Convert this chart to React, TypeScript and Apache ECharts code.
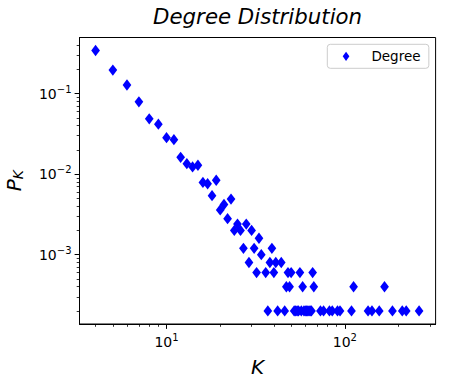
import React, { useEffect, useRef } from 'react';
import * as echarts from 'echarts';

// Degree K and probability P(K)
const degreeK = [
  4, 5, 6, 7, 8, 9, 10, 11, 12, 13, 14, 15, 16, 17, 18, 19, 20, 21, 22, 23,
  24, 25, 26, 27, 28, 29, 30, 31, 32, 33, 34, 36, 37, 38, 39, 40, 41, 42, 44, 46,
  47, 48, 49, 50, 52, 53, 54, 55, 56, 57, 58, 59, 60, 61, 62, 63, 64, 65, 66, 67,
  73, 76, 82, 85, 91, 94, 109, 112, 135, 142, 156, 167, 185, 210, 221, 261,
];
const degreeP = [
  0.343, 0.196, 0.128, 0.079, 0.0487, 0.0418, 0.0284, 0.0268, 0.0162, 0.0135,
  0.0123, 0.0129, 0.0079, 0.0076, 0.0054, 0.0084, 0.0036, 0.0042, 0.0028, 0.0049,
  0.002, 0.0024, 0.002, 0.0012, 0.0024, 0.0008, 0.002, 0.0012, 0.0006, 0.0016,
  0.001, 0.0006, 0.0002, 0.0008, 0.0012, 0.0006, 0.0008, 0.0002, 0.0008, 0.0002,
  0.0004, 0.0006, 0.0004, 0.0006, 0.0002, 0.0002, 0.0002, 0.0002, 0.0006, 0.0002,
  0.0004, 0.0002, 0.0002, 0.0002, 0.0002, 0.0002, 0.0002, 0.0002, 0.0006, 0.0004,
  0.0002, 0.0002, 0.0002, 0.0002, 0.0002, 0.0002, 0.0002, 0.0004, 0.0002, 0.0002,
  0.0002, 0.0004, 0.0002, 0.0002, 0.0002, 0.0002,
];

const xMajorTicks = [10, 100];
const xMajorLabels = ['1', '2'];
const xMinorTicks = [4, 5, 6, 7, 8, 9, 20, 30, 40, 50, 60, 70, 80, 90, 200, 300];
const yMajorTicks = [0.001, 0.01, 0.1];
const yMajorLabels = ['\u22123', '\u22122', '\u22121'];
const yMinorTicks = [
  0.0002, 0.0003, 0.0004, 0.0005, 0.0006, 0.0007, 0.0008, 0.0009,
  0.002, 0.003, 0.004, 0.005, 0.006, 0.007, 0.008, 0.009,
  0.02, 0.03, 0.04, 0.05, 0.06, 0.07, 0.08, 0.09,
  0.2, 0.3, 0.4,
];

const X_MIN = 3.25;
const X_MAX = 323;
const Y_MIN = 1.378e-4;
const Y_MAX = 0.4977;

const FONT = 'DejaVu Sans';

function nearestLabel(v: number, ticks: number[], labels: string[]) {
  let best = 0;
  let bestD = Infinity;
  ticks.forEach((t, i) => {
    const d = Math.abs(Math.log10(t) - Math.log10(v));
    if (d < bestD) {
      bestD = d;
      best = i;
    }
  });
  return `{b|10}{s|${labels[best]}}`;
}

const tickRich = {
  b: { fontSize: 14, fontFamily: FONT, color: '#000' },
  s: { fontSize: 10, fontFamily: FONT, color: '#000', padding: [0, 0, 9, 0] },
};

export default function App() {
  const ref = useRef<HTMLDivElement>(null);

  useEffect(() => {
    document.body.style.margin = '0';
    if (!ref.current) return;
    const chart = echarts.init(ref.current, null, { renderer: 'svg' });

    const minorAxisCommon = {
      type: 'log' as const,
      logBase: 10,
      axisLine: { show: false },
      axisLabel: { show: false },
      splitLine: { show: false },
      minorTick: { show: false },
      minorSplitLine: { show: false },
      silent: true,
    };

    chart.setOption({
      animation: false,
      backgroundColor: '#ffffff',
      title: {
        text: 'Degree Distribution',
        left: 257.6,
        textAlign: 'center',
        top: 6,
        padding: 0,
        textStyle: {
          fontFamily: FONT,
          fontStyle: 'italic',
          fontWeight: 'normal',
          fontSize: 21.3,
          color: '#000',
        },
      },
      legend: {
        left: 327.3,
        top: 44.3,
        padding: [5, 8.3, 5, 15.4],
        itemWidth: 6.7,
        itemHeight: 9.3,
        icon: 'diamond',
        borderColor: '#cccccc',
        borderWidth: 1,
        borderRadius: 3,
        backgroundColor: 'rgba(255,255,255,0.8)',
        textStyle: {
          fontFamily: FONT,
          fontSize: 13.5,
          color: '#000',
          padding: [0, 0, 0, 17],
        },
        data: [{ name: 'Degree', icon: 'diamond', itemStyle: { color: '#0000ff', opacity: 1 } }],
      },
      grid: {
        left: 79.5,
        top: 37.5,
        right: 31.4,
        bottom: 57,
        containLabel: false,
        outerBoundsMode: 'none',
        show: true,
        borderColor: '#000',
        borderWidth: 1,
        backgroundColor: 'transparent',
      },
      xAxis: [
        {
          type: 'log',
          logBase: 10,
          min: X_MIN,
          max: X_MAX,
          position: 'bottom',
          name: 'K',
          nameLocation: 'middle',
          nameGap: 33,
          nameTextStyle: {
            fontFamily: FONT,
            fontStyle: 'italic',
            fontSize: 20,
            color: '#000',
          },
          axisLine: { show: true, lineStyle: { color: '#000', width: 1 } },
          axisTick: {
            show: true,
            length: 4.9,
            customValues: xMajorTicks,
            lineStyle: { color: '#000', width: 1 },
          },
          axisLabel: {
            customValues: xMajorTicks,
            margin: 8,
            formatter: (v: number) => nearestLabel(v, xMajorTicks, xMajorLabels),
            rich: tickRich,
          },
          splitLine: { show: false },
          minorTick: { show: false },
        },
        {
          ...minorAxisCommon,
          min: X_MIN,
          max: X_MAX,
          position: 'bottom',
          axisTick: {
            show: true,
            length: 2.8,
            customValues: xMinorTicks,
            lineStyle: { color: '#000', width: 0.8 },
          },
        },
      ],
      yAxis: [
        {
          type: 'log',
          logBase: 10,
          min: Y_MIN,
          max: Y_MAX,
          position: 'left',
          name: '{p|P}{k|K}',
          nameLocation: 'middle',
          nameGap: 55,
          nameRotate: 90,
          nameTextStyle: {
            rich: {
              p: { fontFamily: FONT, fontStyle: 'italic', fontSize: 20, color: '#000' },
              k: {
                fontFamily: FONT,
                fontStyle: 'italic',
                fontSize: 14,
                color: '#000',
                padding: [8, 0, 0, 0],
              },
            },
          },
          axisLine: { show: true, lineStyle: { color: '#000', width: 1 } },
          axisTick: {
            show: true,
            length: 4.9,
            customValues: yMajorTicks,
            lineStyle: { color: '#000', width: 1 },
          },
          axisLabel: {
            customValues: yMajorTicks,
            margin: 8,
            formatter: (v: number) => nearestLabel(v, yMajorTicks, yMajorLabels),
            rich: tickRich,
          },
          splitLine: { show: false },
          minorTick: { show: false },
        },
        {
          ...minorAxisCommon,
          min: Y_MIN,
          max: Y_MAX,
          position: 'left',
          axisTick: {
            show: true,
            length: 2.8,
            customValues: yMinorTicks,
            lineStyle: { color: '#000', width: 0.8 },
          },
        },
      ],
      series: [
        {
          name: 'Degree',
          type: 'scatter',
          xAxisIndex: 0,
          yAxisIndex: 0,
          symbol: 'diamond',
          symbolSize: [8.7, 11.3],
          itemStyle: { color: '#0000ff', opacity: 1 },
          data: degreeK.map((k, i) => [k, degreeP[i]]),
        },
      ],
    });

    return () => chart.dispose();
  }, []);

  return <div ref={ref} style={{ width: 467, height: 381 }} />;
}
